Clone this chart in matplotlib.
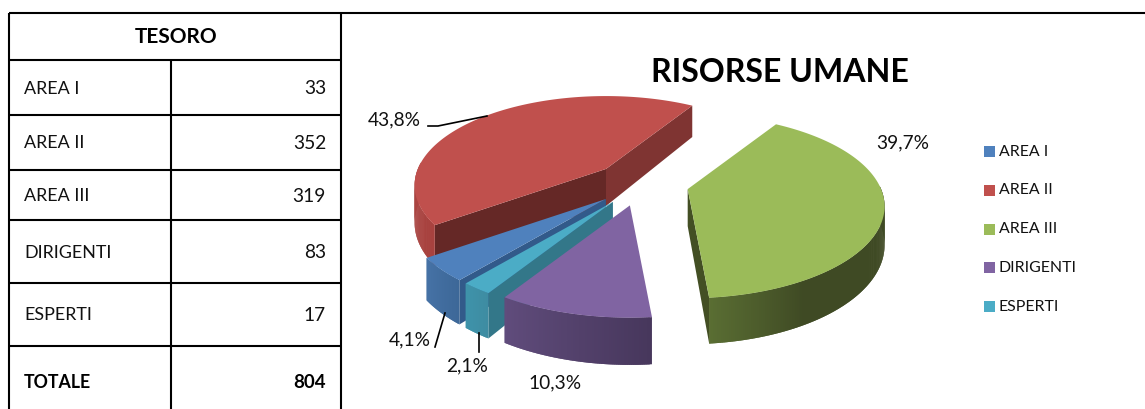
#!/usr/bin/env python3
import math

import matplotlib

matplotlib.use("Agg")
import matplotlib.pyplot as plt
from matplotlib.colors import to_rgb
from matplotlib.patches import Polygon, Rectangle

plt.rcParams["font.family"] = ["Lato", "DejaVu Sans"]

categories = ["AREA I", "AREA II", "AREA III", "DIRIGENTI", "ESPERTI"]
values = [33, 352, 319, 83, 17]
table_title = "TESORO"
total_label = "TOTALE"
chart_title = "RISORSE UMANE"

COLORS = ["#4f81bd", "#c0504d", "#9bbb59", "#8064a2", "#4bacc6"]
CUT_START = ["#325a8a", "#652826", None, None, "#337789"]
CUT_END = [None, "#7f3432", "#434f24", None, None]
WALL_COLORS = [
    ("#3d6898", "#4672a6"),
    ("#a8423f", "#b54b47"),
    ("#5a6e33", "#3f4a24"),
    ("#47375c", "#604c7c"),
    ("#3e8ca2", "#3e93aa"),
]

START_ANGLE = 219.6
CENTER = (641, 184)
RADIUS_X, RADIUS_Y = 192, 88
PERSPECTIVE = 0.187
APEX_PERSPECTIVE = 0.12
DEPTH = 37
EXPLODE = 0.25
DRAW_ORDER = [1, 2, 0, 4, 3]


def project(angle, apex, lift):
    rad = math.radians(angle)
    u, v = math.sin(rad), math.cos(rad)
    s = 1 + PERSPECTIVE * v + lift
    return apex[0] + RADIUS_X * u / s, apex[1] - RADIUS_Y * v / s, DEPTH / s


def blend(c0, c1, t):
    a, b = to_rgb(c0), to_rgb(c1)
    return tuple(x + (y - x) * t for x, y in zip(a, b))


def add_poly(ax, pts, color, z):
    ax.add_patch(Polygon(pts, closed=True, facecolor=color, edgecolor="none", zorder=z))


def draw_slice(ax, idx, start, end, z):
    mid = math.radians((start + end) / 2)
    apex = (
        CENTER[0] + EXPLODE * RADIUS_X * math.sin(mid),
        CENTER[1] - EXPLODE * RADIUS_Y * math.cos(mid),
    )
    lift = APEX_PERSPECTIVE * EXPLODE * math.cos(mid)
    n = max(int(end - start) * 2, 8)
    angles = [start + (end - start) * i / n for i in range(n + 1)]
    rim = [project(a, apex, lift) for a in angles]

    # cut walls first, they sit behind the top face
    for color, point in ((CUT_START[idx], rim[0]), (CUT_END[idx], rim[-1])):
        if color:
            x, y, d = point
            add_poly(ax, [apex, (x, y), (x, y + d), (apex[0], apex[1] + DEPTH)], color, z)

    # outer wall, only the part turned to the viewer
    c0, c1 = WALL_COLORS[idx]
    for i in range(n):
        a = (angles[i] + angles[i + 1]) / 2 % 360
        if not 88 <= a <= 274:
            continue
        # quads overlap the next one so no seams show between them
        x0, y0, d0 = rim[i]
        x1, y1, d1 = rim[min(i + 2, n)]
        if idx == 2:
            shade = blend(c1, c0, max(0, (a - 150) / 25))
        else:
            shade = blend(c0, c1, i / max(n - 1, 1))
        add_poly(ax, [(x0, y0), (x1, y1), (x1, y1 + d1), (x0, y0 + d0)], shade, z + 0.1)

    add_poly(ax, [apex] + [(p[0], p[1]) for p in rim], COLORS[idx], z + 0.2)


def draw_pie(ax):
    total = sum(values)
    edges = [START_ANGLE]
    for value in values:
        edges.append(edges[-1] + value / total * 360)
    for z, idx in enumerate(DRAW_ORDER):
        draw_slice(ax, idx, edges[idx], edges[idx + 1], 2 + z)


def draw_table(ax):
    lw = 1.5
    row_edges = [13, 60, 115, 170, 220, 283, 346]
    ax.plot([9, 1145], [13, 13], color="black", lw=lw, solid_capstyle="butt")
    for y in row_edges[1:]:
        ax.plot([9, 341], [y, y], color="black", lw=lw, solid_capstyle="butt")
    ax.plot([9, 9], [13, 409], color="black", lw=lw, solid_capstyle="butt")
    ax.plot([341, 341], [13, 409], color="black", lw=lw, solid_capstyle="butt")
    ax.plot([171, 171], [60, 409], color="black", lw=lw, solid_capstyle="butt")

    ax.text(176, 37, table_title, ha="center", va="center", fontsize=15, fontweight="bold")
    for i, (name, value) in enumerate(zip(categories, values)):
        y = (row_edges[i + 1] + row_edges[i + 2]) / 2 + 1
        ax.text(24, y, name, ha="left", va="center", fontsize=12.9, color="#111111")
        ax.text(326, y, str(value), ha="right", va="center", fontsize=13.8, color="#111111")
    ax.text(24, 382, total_label, ha="left", va="center", fontsize=12.8, fontweight="bold")
    ax.text(326, 382, str(sum(values)), ha="right", va="center", fontsize=13.5, fontweight="bold")


def draw_labels(ax):
    total = sum(values)
    label_pos = [(410, 340), (394, 120), (903, 143), (555, 383), (467, 366)]
    for value, (x, y) in zip(values, label_pos):
        text = f"{value / total * 100:.1f}%".replace(".", ",")
        ax.text(x, y, text, ha="center", va="center", fontsize=13.8, color="#111111", zorder=10)

    leaders = [
        ([428, 438, 487], [126, 126, 116]),
        ([435, 445], [347, 313]),
        ([479, 479], [333, 352]),
    ]
    for xs, ys in leaders:
        ax.plot(xs, ys, color="black", lw=1.2, zorder=10)


def draw_legend(ax):
    for i, (name, color) in enumerate(zip(categories, COLORS)):
        y = 151.5 + i * 38.8
        ax.add_patch(Rectangle((984, y - 5.5), 11, 11, facecolor=color, edgecolor="none"))
        ax.text(999, y, name, ha="left", va="center", fontsize=11.4, color="#111111")


def main():
    fig = plt.figure(figsize=(11.45, 4.09), dpi=100)
    ax = fig.add_axes([0, 0, 1, 1])
    ax.set_xlim(0, 1145)
    ax.set_ylim(409, 0)
    ax.axis("off")

    draw_table(ax)
    draw_pie(ax)
    draw_labels(ax)
    draw_legend(ax)
    ax.text(779.5, 72, chart_title, ha="center", va="center", fontsize=23.1, fontweight="bold")

    fig.savefig("out.png", dpi=100)
    plt.close(fig)


if __name__ == "__main__":
    main()
